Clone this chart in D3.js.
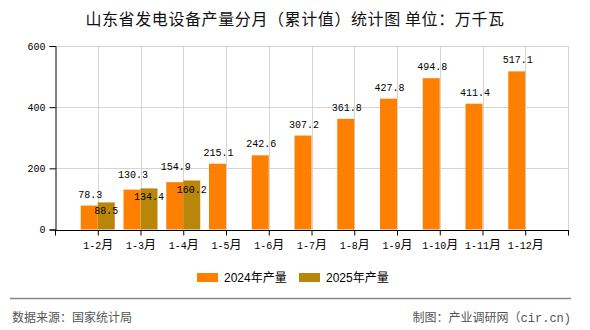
<!DOCTYPE html>
<html><head><meta charset="utf-8">
<script src="https://cdn.jsdelivr.net/npm/d3@7/dist/d3.min.js"></script>
<style>
html,body{margin:0;padding:0;background:#fff;}
svg{display:block;}
</style></head>
<body>
<svg id="c" width="590" height="330"></svg>
<script>
const categories = ["1-2月","1-3月","1-4月","1-5月","1-6月","1-7月","1-8月","1-9月","1-10月","1-11月","1-12月"];
const values2024 = [78.3,130.3,154.9,215.1,242.6,307.2,361.8,427.8,494.8,411.4,517.1];
const values2025 = [88.5,134.4,160.2];
const seriesNames = ["2024年产量","2025年产量"];
const yTicks = [0,200,400,600];
const titleText = "山东省发电设备产量分月（累计值）统计图 单位：万千瓦";
const sourceText = "数据来源：国家统计局";
const creditCJK = "制图：产业调研网（";
const creditLatin = "cir.cn)";

const colors = ["#FF8000","#B8860B"];
const mono = "'Liberation Mono','DejaVu Sans Mono','Noto Sans CJK SC',monospace";
const cjk = "'Noto Sans CJK SC','Liberation Sans',sans-serif";

const svg = d3.select("#c");
const L = 55, R = 568, T = 46, B = 229.5;
const step = (R - L) / (categories.length + 1);

const x = d3.scalePoint().domain(categories).range([L + step, L + step * categories.length]);
const y = d3.scaleLinear().domain([0, 600]).range([B, T]);
const barW = 17;

// grid
const g = svg.append("g");
g.selectAll(".hg").data(yTicks.filter(d => d > 0)).enter().append("line")
  .attr("x1", L).attr("x2", R).attr("y1", d => Math.round(y(d)) + 0.5).attr("y2", d => Math.round(y(d)) + 0.5)
  .attr("stroke", "#d4d4d4").attr("stroke-width", 1);
g.selectAll(".vg").data(categories).enter().append("line")
  .attr("x1", d => Math.round(x(d)) + 0.5).attr("x2", d => Math.round(x(d)) + 0.5)
  .attr("y1", T).attr("y2", B)
  .attr("stroke", "#d4d4d4").attr("stroke-width", 1);
g.append("line").attr("x1", R + 0.5).attr("x2", R + 0.5).attr("y1", T).attr("y2", B)
  .attr("stroke", "#d4d4d4");

// bars
svg.append("g").selectAll("rect").data(values2024).enter().append("rect")
  .attr("x", (d, i) => x(categories[i]) - barW)
  .attr("y", d => y(d)).attr("width", barW).attr("height", d => y(0) - y(d))
  .attr("fill", colors[0]);
svg.append("g").selectAll("rect").data(values2025).enter().append("rect")
  .attr("x", (d, i) => x(categories[i]))
  .attr("y", d => y(d)).attr("width", barW).attr("height", d => y(0) - y(d))
  .attr("fill", colors[1]);

// value labels
svg.append("g").selectAll("text").data(values2024).enter().append("text")
  .attr("x", (d, i) => x(categories[i]) - barW / 2 + 1)
  .attr("y", (d, i) => {
    let yy = y(d) - 8;
    if (i < values2025.length && values2025[i] > d && values2025[i] - d < 8) yy -= 4;
    return yy;
  })
  .attr("text-anchor", "middle").attr("font-family", mono).attr("font-size", 10)
  .attr("fill", "#000").text(d => d.toFixed(1));
svg.append("g").selectAll("text").data(values2025).enter().append("text")
  .attr("x", (d, i) => x(categories[i]) + barW / 2)
  .attr("y", d => y(d) + 12)
  .attr("text-anchor", "middle").attr("font-family", mono).attr("font-size", 10)
  .attr("fill", "#000").text(d => d.toFixed(1));

// y axis
const ya = svg.append("g").attr("transform", `translate(${L + 0.5},0)`)
  .call(d3.axisLeft(y).tickValues(yTicks).tickSize(6).tickPadding(4).tickFormat(d3.format("d")));
ya.select(".domain").attr("stroke", "#000");
ya.selectAll(".tick line").attr("stroke", "#000");
ya.selectAll("text").attr("font-family", mono).attr("font-size", 10).attr("fill", "#000");

// x axis
const xa = svg.append("g").attr("transform", `translate(0,${Math.round(B) + 0.5})`)
  .call(d3.axisBottom(x).tickSize(5).tickPadding(4).tickSizeOuter(0));
xa.select(".domain").remove();
xa.append("line").attr("x1", L).attr("x2", R + 1).attr("y1", 0).attr("y2", 0).attr("stroke", "#000");
[L, R].forEach(v => xa.append("line").attr("x1", v + 0.5).attr("x2", v + 0.5).attr("y1", 0).attr("y2", 5).attr("stroke", "#000"));
xa.selectAll(".tick line").attr("stroke", "#000");
xa.selectAll(".tick text").each(function(d) {
  const t = d3.select(this);
  t.text(null).attr("font-family", mono).attr("font-size", 10).attr("fill", "#000").attr("dy", "0.95em");
  t.append("tspan").text(d.replace("月", ""));
  t.append("tspan").attr("font-family", cjk).attr("font-size", 12).text("月");
});

// title
svg.append("text").attr("x", 295).attr("y", 25).attr("text-anchor", "middle")
  .attr("font-family", cjk).attr("font-size", 16).attr("letter-spacing", 0.6).attr("fill", "#111").text(titleText);

// legend
const lg = svg.append("g");
const legX = [197, 299];
seriesNames.forEach((n, i) => {
  lg.append("rect").attr("x", legX[i]).attr("y", 273).attr("width", 21).attr("height", 9).attr("fill", colors[i]);
  lg.append("text").attr("x", legX[i] + 27).attr("y", 282).attr("font-family", "'Liberation Sans','Noto Sans CJK SC',sans-serif")
    .attr("font-size", 12).attr("fill", "#000").text(n);
});

// separator and footer
svg.append("line").attr("x1", 10).attr("x2", 571).attr("y1", 298.5).attr("y2", 298.5).attr("stroke", "#888").attr("stroke-width", 1.5);
svg.append("text").attr("x", 12).attr("y", 322).attr("font-family", cjk).attr("font-size", 12).attr("fill", "#555").text(sourceText);
const cr = svg.append("text").attr("x", 571).attr("y", 322).attr("text-anchor", "end").attr("font-size", 12).attr("fill", "#555");
cr.append("tspan").attr("font-family", cjk).text(creditCJK);
cr.append("tspan").attr("font-family", mono).text(creditLatin);
</script>
</body></html>
